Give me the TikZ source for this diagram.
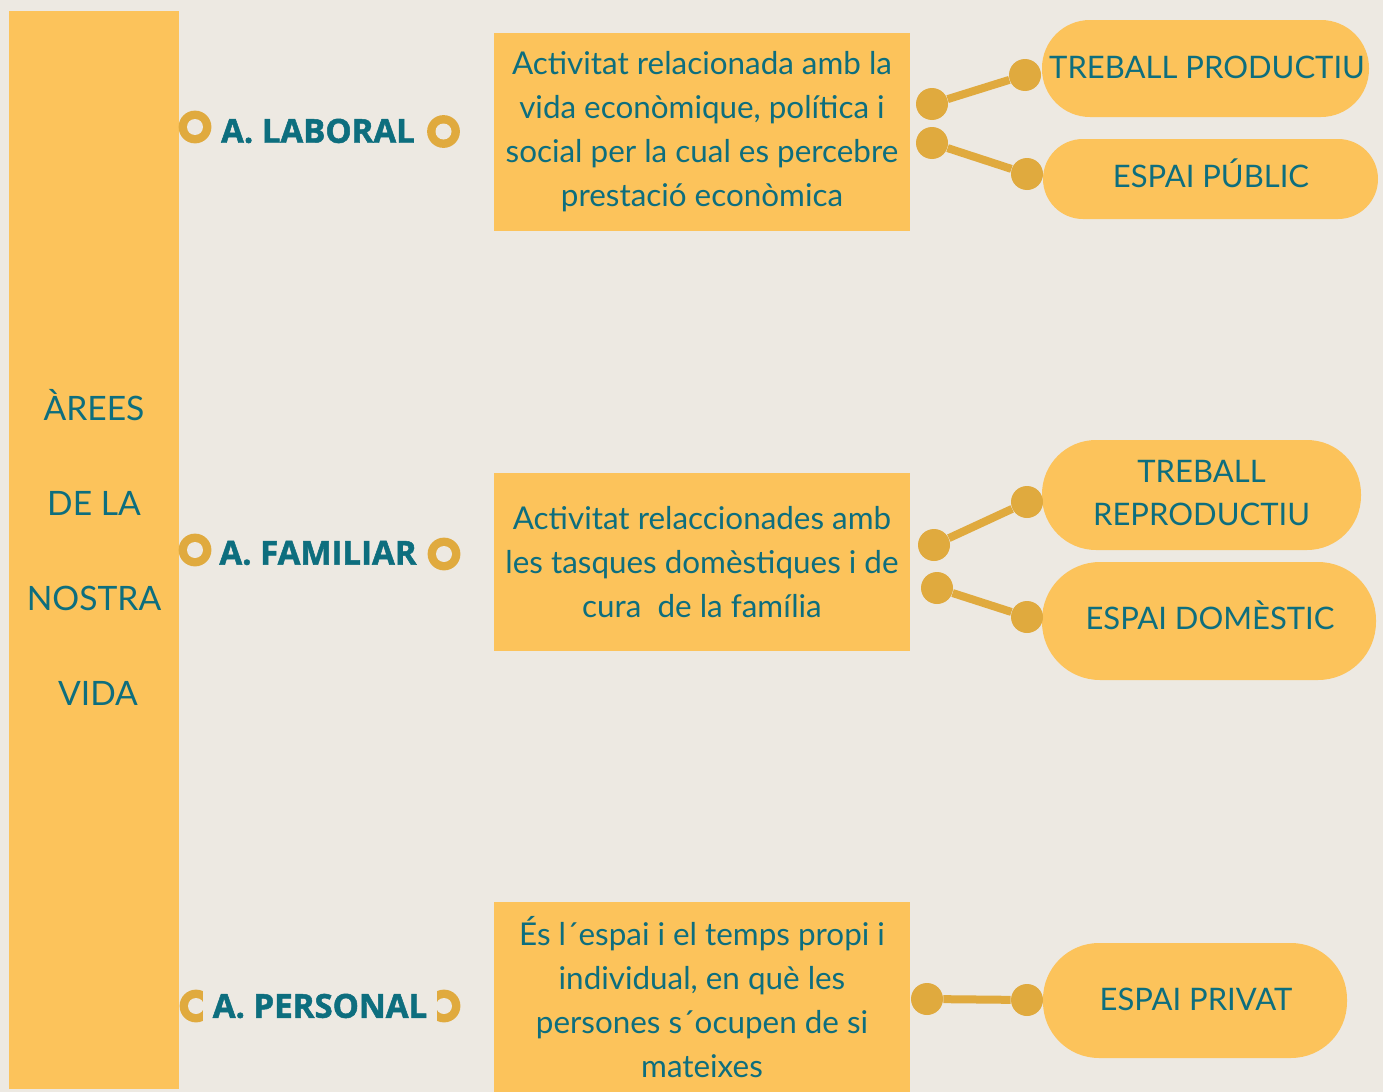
\documentclass[tikz,border=0pt]{standalone}
\usepackage{fontspec}
\setmainfont{Lato}
\newfontfamily\labfont{Open Sans}[BoldFeatures={FakeBold=1.5}]
\definecolor{bg}{HTML}{EDE9E2}
\definecolor{yel}{HTML}{FCC35B}
\definecolor{gold}{HTML}{E0AA3E}
\definecolor{teal}{HTML}{0D6E7E}
\begin{document}
\begin{tikzpicture}[x=0.5pt,y=-0.5pt,
  bar/.style={fill=yel,draw=none,inner sep=0pt,minimum width=85pt,minimum height=539pt},
  bartext/.style={align=center,text=teal,inner sep=0pt,font=\fontsize{16.8}{47.5}\selectfont},
  descbox/.style={fill=yel,draw=none,inner sep=0pt,minimum width=208pt,align=center,text=teal,font=\fontsize{15.7}{22}\selectfont},
  pill/.style={fill=yel,draw=none,inner sep=0pt,rounded corners=#1},
  pilltext/.style={align=center,text=teal,inner sep=0pt,font=\fontsize{15.5}{21.5}\selectfont},
  one/.style={text height=11.2pt,text depth=0pt},
  dot/.style={circle,fill=gold,draw=none,inner sep=0pt,minimum size=16pt},
  ring/.style={circle,fill=gold,draw=none,inner sep=0pt,minimum size=16.4pt,
    path picture={\fill[bg] (path picture bounding box.center) circle (4pt);}},
  conn/.style={draw=gold,line width=4pt},
  lab/.style={text=teal,font=\labfont\bfseries\fontsize{16.5}{20}\selectfont,inner sep=0pt}]
\useasboundingbox (0,0) rectangle (1383,1092);
\fill[bg] (0,0) rectangle (1383,1092);
% left bar
\node[bar] (bar) at (94,550) {};
\node[bartext] (bart) at (94,547) {ÀREES\\DE LA\\NOSTRA\\\hspace*{4pt}VIDA};
% description boxes
\node[descbox,minimum height=99pt] (box1) at (702,132) {Activitat relacionada amb la\\vida econòmique, política i\\social per la cual es percebre\\prestació econòmica};
\node[descbox,minimum height=89pt] (box2) at (702,562) {Activitat relaccionades amb\\les tasques domèstiques i de\\cura\ \ de la família};
\node[descbox,minimum height=95pt] (box3) at (702,997) {És l´espai i el temps propi i\\individual, en què les\\persones s´ocupen de si\\mateixes};
% pills
\node[pill=24pt,minimum width=163.5pt,minimum height=48.5pt] (p1) at (1205.5,68.5) {};
\node[pill=20pt,minimum width=167.5pt,minimum height=40pt] (p2) at (1210.5,179) {};
\node[pill=27pt,minimum width=159.5pt,minimum height=55pt] (p3) at (1201.5,495) {};
\node[pill=29pt,minimum width=167pt,minimum height=59pt] (p4) at (1209,621) {};
\node[pill=28pt,minimum width=152pt,minimum height=57.5pt] (p5) at (1195,1000.5) {};
\node[pilltext,one] (t1) at (1207,67) {TREBALL PRODUCTIU};
\node[pilltext,one] (t2) at (1211,176) {ESPAI PÚBLIC};
\node[pilltext] (t3) at (1201.5,493) {TREBALL\\REPRODUCTIU};
\node[pilltext,one] (t4) at (1210,618) {ESPAI DOMÈSTIC};
\node[pilltext,one] (t5) at (1196,999) {ESPAI PRIVAT};
% dots
\node[dot] (a1) at (932,104) {};
\node[dot] (b1) at (1025,75) {};
\node[dot] (a2) at (932,143) {};
\node[dot] (b2) at (1027,174) {};
\node[dot] (a3) at (934,545) {};
\node[dot] (b3) at (1027,502) {};
\node[dot] (a4) at (937,588) {};
\node[dot] (b4) at (1027,617) {};
\node[dot] (a5) at (927,999) {};
\node[dot] (b5) at (1027,1000) {};
\draw[conn] (a1) -- (b1);
\draw[conn] (a2) -- (b2);
\draw[conn] (a3) -- (b3);
\draw[conn] (a4) -- (b4);
\draw[conn] (a5) -- (b5);
% rings and labels
\node[ring] (rl1) at (195,127) {};
\node[ring] (rl2) at (443.5,131.5) {};
\node[lab] (lab) at (318,131) {A. LABORAL};
\node[ring] (rf1) at (195,550) {};
\node[ring] (rf2) at (444,554) {};
\node[lab] (fam) at (318,553) {A. FAMILIAR};
\node[ring] (rp1) at (196,1006) {};
\node[ring] (rp2) at (444,1006) {};
\node[lab,fill=bg,minimum width=117pt,minimum height=17pt] (per) at (320,1006) {A. PERSONAL};
\end{tikzpicture}
\end{document}
